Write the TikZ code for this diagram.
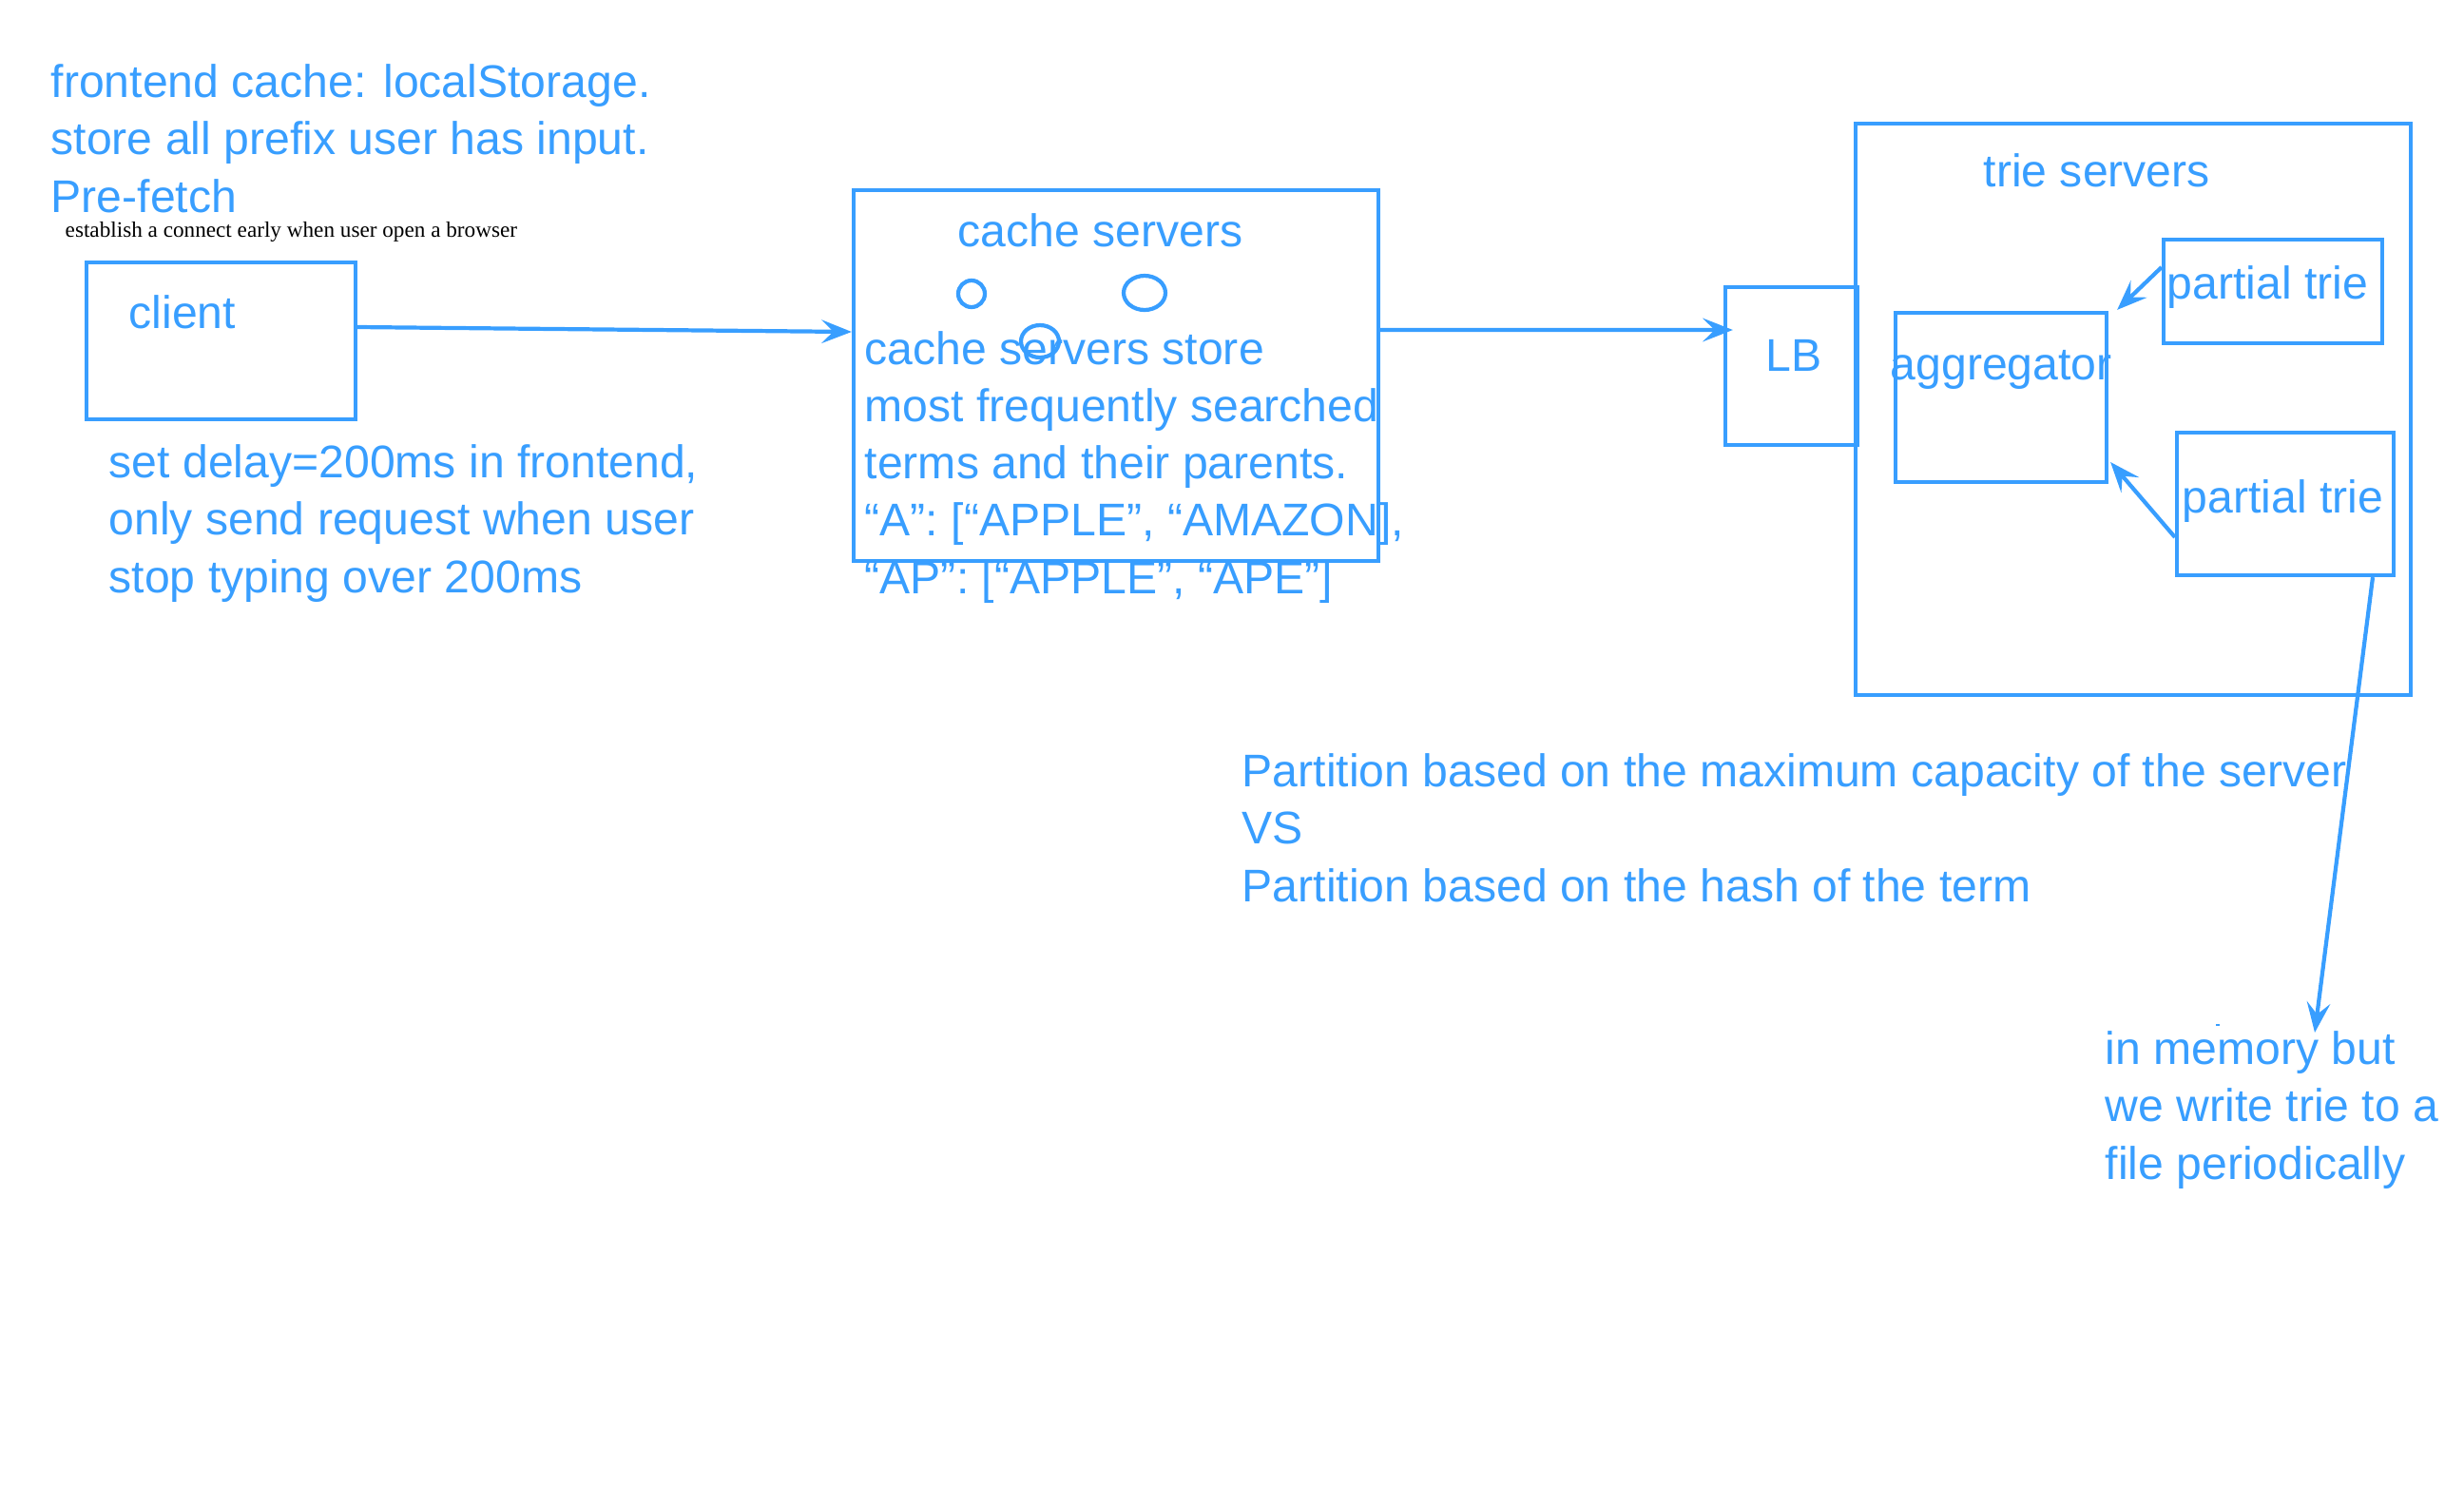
\documentclass[tikz,border=0pt]{standalone}
\usepackage{fontspec}
\setmainfont{Liberation Sans}
\newfontfamily\notefont{Liberation Serif}
\usepackage{tikz}
\usetikzlibrary{arrows.meta}
\usetikzlibrary{positioning}
\definecolor{sketchblue}{RGB}{56,158,255}

\begin{document}
\begin{tikzpicture}[
MyBoxes/.style={draw=sketchblue,line width=1.2pt,inner sep=0,rectangle},
MyTexts/.style={text=sketchblue,font=\fontsize{13.7}{17.1}\selectfont,anchor=base west,inner sep=0,align=left},
MyArrows/.style={-{Stealth[length=9pt,width=7pt,inset=3.5pt]},draw=sketchblue,line width=1.2pt},
MyDots/.style={draw=sketchblue,line width=1.2pt}
]
\useasboundingbox (0,0) rectangle (25.92,-15.64);

% frontend notes (multi-line texts sit on their last line)
\node[MyTexts] (frontend) at (0.53,-2.23) {frontend cache: localStorage.\\store all prefix user has input.\\Pre-fetch};
\node[anchor=base west,inner sep=0,font=\notefont\fontsize{6.6}{8}\selectfont] (establish) at (0.68,-2.49) {establish a connect early when user open a browser};

% client
\node[MyBoxes,minimum width=2.83cm,minimum height=1.65cm] (client) at (2.325,-3.585) {};
\node[MyTexts] (clientlabel) at (1.35,-3.45) {client};
\node[MyTexts] (delay) at (1.14,-6.23) {set delay=200ms in frontend,\\only send request when user\\stop typing over 200ms};

% cache servers
\node[MyBoxes,minimum width=5.52cm,minimum height=3.90cm] (cache) at (11.74,-3.95) {};
\node[MyTexts] (cachetitle) at (10.07,-2.59) {cache servers};
\draw[MyDots] (10.22,-3.09) circle (0.14);
\draw[MyDots] (12.04,-3.08) ellipse (0.22 and 0.18);
\draw[MyDots] (10.94,-3.59) ellipse (0.20 and 0.17);
\node[MyTexts] (cachenote) at (9.09,-6.24) {cache servers store\\most frequently searched\\terms and their parents.\\“A”: [“APPLE”, “AMAZON],\\“AP”: [“APPLE”, “APE”]};

% load balancer
\node[MyBoxes,minimum width=1.39cm,minimum height=1.66cm] (lb) at (18.845,-3.85) {};
\node[MyTexts] (lblabel) at (18.57,-3.90) {LB};

% trie servers
\node[MyBoxes,minimum width=5.84cm,minimum height=6.01cm] (trie) at (22.44,-4.305) {};
\node[MyTexts] (trielabel) at (20.86,-1.96) {trie servers};
\node[MyBoxes,minimum width=2.30cm,minimum height=1.09cm] (ptone) at (23.91,-3.065) {};
\node[MyTexts] (ptonelabel) at (22.79,-3.14) {partial trie};
\node[MyBoxes,minimum width=2.22cm,minimum height=1.78cm] (agg) at (21.05,-4.18) {};
\node[MyTexts] (agglabel) at (19.88,-3.99) {aggregator};
\node[MyBoxes,minimum width=2.28cm,minimum height=1.50cm] (pttwo) at (24.04,-5.30) {};
\node[MyTexts] (pttwolabel) at (22.95,-5.39) {partial trie};

% notes
\node[MyTexts] (partition) at (13.06,-9.48) {Partition based on the maximum capacity of the server\\VS\\Partition based on the hash of the term};
\node[MyTexts] (memory) at (22.14,-12.40) {in memory but\\we write trie to a\\file periodically};
\coordinate (memtip) at (24.35,-10.86);
\draw[sketchblue,line width=0.5pt] (23.31,-10.78) -- (23.35,-10.78);

% connectors
\draw[MyArrows] ([yshift=1.45mm]client.east) -- ([yshift=4.6mm]cache.west);
\draw[MyArrows] ([yshift=4.8mm]cache.east) -- ([xshift=1mm,yshift=3.8mm]lb.west);
\draw[MyArrows] ([yshift=2.55mm]ptone.west) -- ([xshift=0.9mm,yshift=0.1mm]agg.north east);
\draw[MyArrows] ([yshift=-3.5mm]pttwo.west) -- ([xshift=0.2mm,yshift=-6.8mm]agg.east);
\draw[MyArrows] ([xshift=9.2mm]pttwo.south) -- (memtip);

\end{tikzpicture}
\end{document}
